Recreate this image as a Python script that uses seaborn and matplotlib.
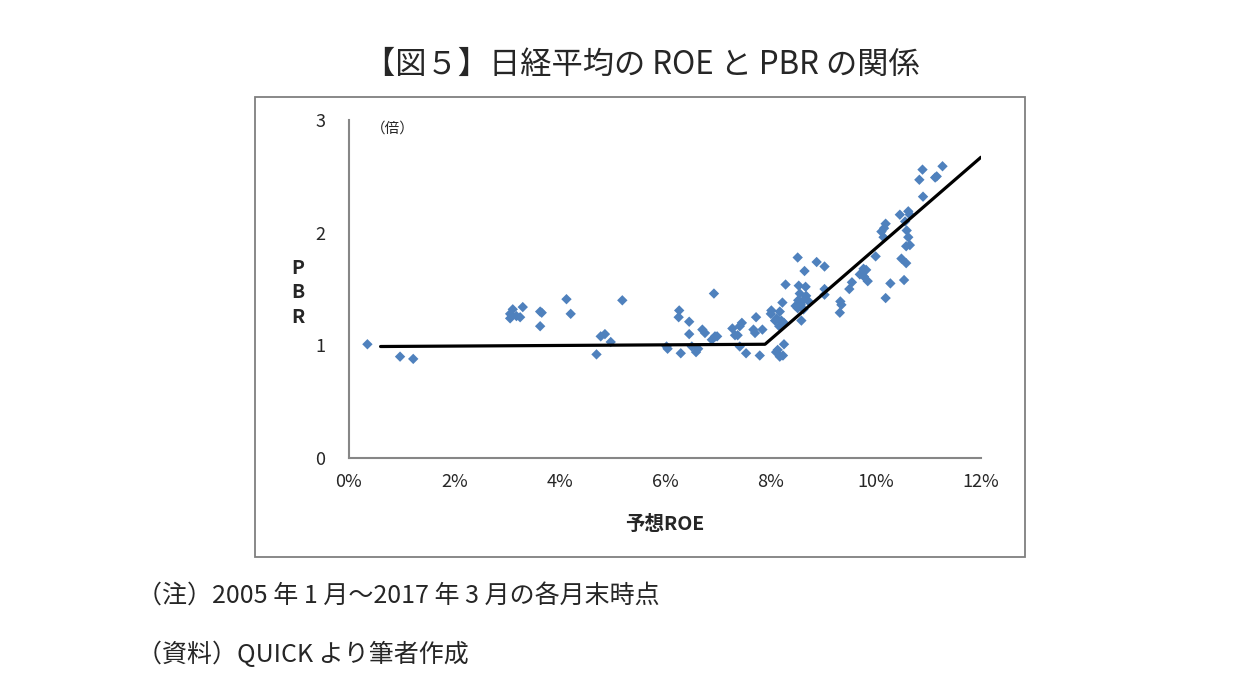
import matplotlib
matplotlib.use("Agg")
import matplotlib.pyplot as plt
import matplotlib.patches as patches
from matplotlib.ticker import FuncFormatter
import pandas as pd
import seaborn as sns

# 予想ROE (%) と PBR (倍), 2005/1 - 2017/3 month-end
roe = [0.35, 0.97, 1.22,
       3.06, 3.06, 3.11, 3.18, 3.25, 3.30, 3.63, 3.66, 3.63, 4.13, 4.21, 5.19,
       4.70, 4.78, 4.86, 4.97,
       6.03, 6.05, 6.30, 6.27, 6.26, 6.46, 6.46, 6.51, 6.59, 6.63, 6.71, 6.76,
       6.93, 6.89, 6.95, 6.99, 7.28, 7.33, 7.38, 7.42, 7.46, 7.42, 7.54, 7.68,
       7.71, 7.73, 7.85, 7.80,
       8.52, 8.88, 9.03, 8.65, 8.29, 8.54, 8.67, 8.56, 9.03, 8.53, 8.65, 8.73,
       8.23, 8.48, 8.52, 8.63, 8.02, 8.01, 8.18, 8.12, 8.21, 8.26, 8.59, 8.26,
       8.14, 8.18, 8.11, 8.24, 9.03, 8.17, 8.09, 8.58, 8.68,
       9.33, 9.35, 9.32, 9.50, 9.55, 9.70, 9.77, 9.82, 9.78, 9.85, 10.00,
       10.11, 10.16, 10.19, 10.15, 10.19, 10.28, 10.54, 10.49, 10.58, 10.58,
       10.65, 10.62, 10.59, 10.56, 10.46, 10.62, 10.65, 10.90, 10.83, 10.89,
       11.13, 11.16, 11.27]
pbr = [1.01, 0.90, 0.88,
       1.24, 1.28, 1.32, 1.26, 1.25, 1.34, 1.30, 1.29, 1.17, 1.41, 1.28, 1.40,
       0.92, 1.08, 1.10, 1.03,
       0.99, 0.97, 0.93, 1.31, 1.25, 1.21, 1.10, 0.99, 0.94, 0.97, 1.14, 1.11,
       1.46, 1.05, 1.08, 1.08, 1.15, 1.09, 1.09, 1.17, 1.20, 0.99, 0.93, 1.14,
       1.11, 1.25, 1.14, 0.91,
       1.78, 1.74, 1.70, 1.66, 1.54, 1.53, 1.52, 1.46, 1.50, 1.40, 1.41, 1.39,
       1.38, 1.35, 1.33, 1.32, 1.31, 1.28, 1.30, 1.24, 1.22, 1.20, 1.22, 1.01,
       0.96, 0.90, 0.94, 0.91, 1.45, 1.17, 1.22, 1.36, 1.44,
       1.39, 1.36, 1.29, 1.50, 1.56, 1.63, 1.68, 1.67, 1.61, 1.57, 1.79,
       2.01, 2.04, 2.08, 1.96, 1.42, 1.55, 1.58, 1.77, 1.73, 1.88,
       1.89, 1.96, 2.02, 2.10, 2.16, 2.19, 2.16, 2.32, 2.47, 2.56,
       2.49, 2.50, 2.59]

# kinked fitted line
line_roe = [0.6, 7.9, 12.0]
line_pbr = [0.99, 1.01, 2.67]

df = pd.DataFrame({"roe": roe, "pbr": pbr})
line_df = pd.DataFrame({"roe": line_roe, "pbr": line_pbr})

sns.set_style("white")
plt.rcParams['font.family'] = ['Noto Sans CJK JP', 'DejaVu Sans']

fig = plt.figure(figsize=(12.49, 6.94), dpi=100)
ax = fig.add_axes([0.2794, 0.340, 0.506, 0.487])

# outer frame of the chart area
frame = patches.Rectangle((0.204, 0.197), 0.6167, 0.663, transform=fig.transFigure,
                          fill=False, edgecolor='#7f7f7f', linewidth=1.3, zorder=0)
fig.patches.append(frame)

sns.scatterplot(data=df, x="roe", y="pbr", marker="D", s=28, color="#4F81BD",
                edgecolor="none", ax=ax, zorder=2)
sns.lineplot(data=line_df, x="roe", y="pbr", color="black", linewidth=2.3, ax=ax,
             zorder=3)

ax.set_xlim(0, 12)
ax.set_ylim(0, 3)
ax.set_xticks([0, 2, 4, 6, 8, 10, 12])
ax.set_yticks([0, 1, 2, 3])
ax.xaxis.set_major_formatter(FuncFormatter(lambda v, p: f"{v:.0f}%"))
ax.tick_params(axis='both', direction='out', length=5, width=1.2, color='#868686',
               labelsize=13, pad=6)
ax.tick_params(axis='y', pad=12)
sns.despine(ax=ax, top=True, right=True)
for side in ['left', 'bottom']:
    ax.spines[side].set_color('#868686')
    ax.spines[side].set_linewidth(1.5)

ax.set_xlabel("予想ROE", fontsize=14, fontweight='bold')
ax.xaxis.set_label_coords(0.5, -0.17)
ax.set_ylabel("")
fig.text(0.2385, 0.578, "P\nB\nR", fontsize=14, fontweight='bold', ha='center',
         va='center', linespacing=1.35)
ax.text(0.035, 0.975, "（倍）", transform=ax.transAxes, fontsize=10.5, ha='left', va='center')

fig.text(0.514, 0.906, "【図５】日経平均の ROE と PBR の関係", fontsize=22.5, ha='center',
         va='center')
fig.text(0.110, 0.140, "（注）2005 年 1 月～2017 年 3 月の各月末時点", fontsize=18,
         ha='left', va='center')
fig.text(0.110, 0.056, "（資料）QUICK より筆者作成", fontsize=18, ha='left', va='center')

fig.savefig("out.png", dpi=100)
